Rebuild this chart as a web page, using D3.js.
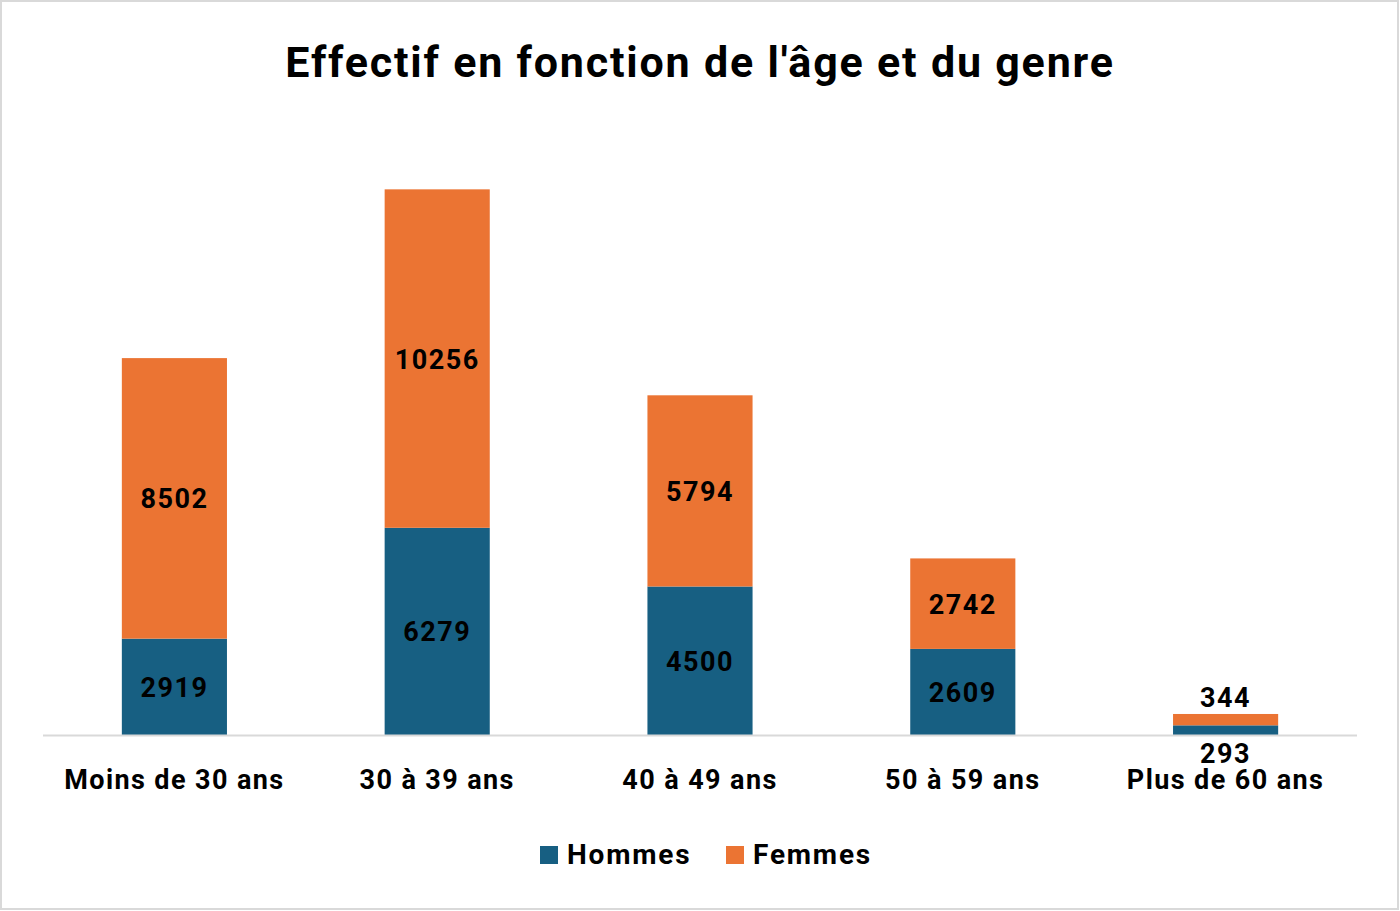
<!DOCTYPE html>
<html>
<head>
<meta charset="utf-8">
<script src="https://cdn.jsdelivr.net/npm/d3@7"></script>
<style>
  body { margin: 0; background: #fff; }
  text { font-family: Roboto, "Liberation Sans", sans-serif; font-weight: bold; fill: #000; }
</style>
</head>
<body>
<div id="chart"></div>
<script>
var categories = ['Moins de 30 ans', '30 à 39 ans', '40 à 49 ans', '50 à 59 ans', 'Plus de 60 ans'];
var hommes = [2919, 6279, 4500, 2609, 293];
var femmes = [8502, 10256, 5794, 2742, 344];
var seriesNames = ['Hommes', 'Femmes'];
var colors = ['#175f82', '#eb7433'];

var width = 1400, height = 911;

var svg = d3.select('#chart').append('svg')
  .attr('width', width)
  .attr('height', height);

// frame
svg.append('rect')
  .attr('x', 1).attr('y', 1)
  .attr('width', width - 3).attr('height', height - 3)
  .attr('fill', '#fff')
  .attr('stroke', '#d9d9d9')
  .attr('stroke-width', 2);

svg.append('text')
  .attr('x', 700).attr('y', 77)
  .attr('text-anchor', 'middle')
  .style('font-size', '43px')
  .style('letter-spacing', '1.8px')
  .text("Effectif en fonction de l'âge et du genre");

var x = d3.scaleBand()
  .domain(categories)
  .range([43, 1357])
  .paddingInner(0.6)
  .paddingOuter(0.3);

var y = d3.scaleLinear()
  .domain([0, 18000])
  .range([735, 141]);

var rows = categories.map(function (c, i) {
  return { cat: c, Hommes: hommes[i], Femmes: femmes[i] };
});
var stacked = d3.stack().keys(seriesNames)(rows);

var groups = svg.selectAll('g.series').data(stacked)
  .enter().append('g')
  .attr('class', 'series')
  .attr('fill', function (d, i) { return colors[i]; });

groups.selectAll('rect').data(function (d) { return d; })
  .enter().append('rect')
  .attr('x', function (d) { return x(d.data.cat); })
  .attr('y', function (d) { return y(d[1]); })
  .attr('width', x.bandwidth())
  .attr('height', function (d) { return y(d[0]) - y(d[1]); });

// value labels
groups.each(function (s, si) {
  d3.select(this).selectAll('text.val').data(s)
    .enter().append('text')
    .attr('class', 'val')
    .attr('text-anchor', 'middle')
    .style('font-size', '27px')
    .style('letter-spacing', '1.5px')
    .attr('x', function (d) { return x(d.data.cat) + x.bandwidth() / 2; })
    .attr('y', function (d) {
      var h = y(d[0]) - y(d[1]);
      if (h < 30) {
        // too small: Hommes under the axis, Femmes above the bar
        return si === 0 ? y(0) + 28 : y(d[1]) - 7;
      }
      return (y(d[0]) + y(d[1])) / 2 + 10;
    })
    .text(function (d) { return d[1] - d[0]; });
});

// axis line
svg.append('line')
  .attr('x1', 43).attr('x2', 1357)
  .attr('y1', 735.5).attr('y2', 735.5)
  .attr('stroke', '#d9d9d9')
  .attr('stroke-width', 2);

svg.selectAll('text.cat').data(categories)
  .enter().append('text')
  .attr('class', 'cat')
  .attr('text-anchor', 'middle')
  .style('font-size', '27px')
  .style('letter-spacing', '1.4px')
  .attr('x', function (d) { return x(d) + x.bandwidth() / 2; })
  .attr('y', 789)
  .text(function (d) { return d; });

// legend
var legendX = [540, 726];
var legend = svg.selectAll('g.legend').data(seriesNames)
  .enter().append('g')
  .attr('class', 'legend')
  .attr('transform', function (d, i) { return 'translate(' + legendX[i] + ',846)'; });
legend.append('rect')
  .attr('width', 18).attr('height', 18)
  .attr('fill', function (d, i) { return colors[i]; });
legend.append('text')
  .attr('x', 27).attr('y', 18)
  .style('font-size', '28px')
  .style('letter-spacing', '1.8px')
  .text(function (d) { return d; });
</script>
</body>
</html>
